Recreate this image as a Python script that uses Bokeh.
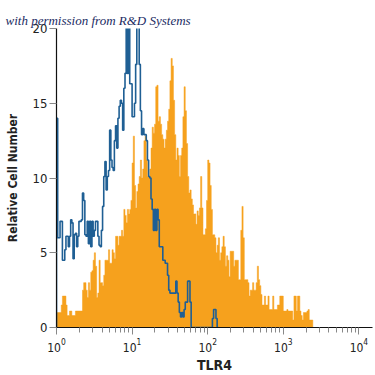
from bokeh.plotting import figure
from bokeh.models import Range1d, FixedTicker, Title
from bokeh.embed import file_html
from bokeh.resources import INLINE

# 256-channel log histogram (64 channels per decade); values = relative cell number
CHANNELS_PER_DECADE = 64

orange_counts = [
    1.0, 1.0, 1.0, 1.0, 1.5, 2.1, 2.1, 2.1, 1.5, 0.8,
    0.8, 1.1, 1.1, 0.8, 0.8, 0.8, 1.1, 1.1, 1.1, 1.1,
    1.1, 1.1, 2.5, 3.0, 3.0, 2.5, 2.0, 3.0, 2.5, 3.7,
    3.8, 4.5, 5.0, 4.1, 2.0, 2.3, 4.5, 3.0, 3.0, 2.8,
    3.5, 4.5, 4.5, 4.5, 5.2, 4.3, 4.3, 5.2, 5.0, 4.6,
    6.1, 6.1, 5.5, 6.1, 6.1, 6.5, 6.1, 7.9, 7.5, 7.0,
    7.9, 7.6, 7.9, 8.5, 11.0, 12.8, 9.5, 8.0, 9.1, 9.6,
    10.1, 11.2, 10.0, 10.6, 12.5, 12.8, 11.2, 10.1, 10.1, 10.6,
    12.0, 13.4, 13.0, 13.6, 16.1, 16.2, 13.8, 14.1, 13.6, 12.9,
    12.6, 12.0, 12.6, 13.2, 13.8, 14.6, 16.5, 18.0, 17.5, 15.2,
    12.9, 11.2, 12.0, 11.5, 10.1, 11.5, 12.0, 14.1, 16.1, 14.5,
    12.3, 10.1, 9.0, 9.2, 8.6, 8.2, 7.6, 7.6, 6.9, 7.8,
    7.5, 8.0, 10.1, 8.0, 6.2, 6.2, 6.6, 8.5, 11.2, 11.0,
    9.5, 7.9, 6.2, 6.2, 6.0, 5.0, 5.5, 6.0, 4.5, 5.0,
    5.4, 6.1, 5.4, 4.1, 4.8, 4.5, 3.4, 5.1, 5.1, 5.1,
    4.1, 4.5, 4.5, 4.5, 3.2, 3.2, 6.5, 8.1, 6.0, 3.2,
    3.2, 3.2, 3.0, 2.1, 2.5, 2.5, 3.0, 2.5, 2.5, 3.0,
    4.1, 3.2, 2.8, 2.2, 1.5, 1.5, 2.1, 1.5, 1.5, 2.1,
    1.2, 1.2, 1.2, 2.1, 1.2, 1.2, 1.2, 1.5, 1.5, 2.1,
    2.1, 2.1, 1.1, 1.1, 1.1, 1.2, 1.1, 1.1, 1.1, 1.1,
    0.5, 2.1, 2.1, 1.1, 2.1, 2.1, 1.1, 0.8, 0.5, 1.0,
    1.0, 1.0, 1.1, 1.2, 0.5, 0.5, 0.5,
]

blue_counts = [
    14.0, 6.0, 6.0, 7.1, 7.1, 4.5, 4.5, 5.2, 6.1, 6.1,
    5.4, 6.1, 7.2, 7.0, 4.6, 6.2, 6.3, 5.4, 6.1, 7.1,
    7.1, 7.2, 9.0, 8.5, 6.2, 6.1, 7.1, 5.6, 7.1, 5.4,
    7.1, 6.1, 6.5, 7.1, 7.1, 6.1, 5.5, 5.4, 6.5, 8.1,
    10.1, 11.1, 9.2, 10.1, 10.5, 13.2, 11.2, 10.7, 10.5, 12.5,
    13.5, 12.0, 14.0, 14.8, 15.2, 15.0, 13.2, 16.0, 17.0, 21.0,
    17.0, 21.0, 16.3, 16.3, 14.1, 14.1, 15.0, 17.6, 21.0, 21.0,
    17.6, 14.5, 12.9, 13.3, 12.9, 12.9, 12.5, 11.2, 10.1, 10.0,
    8.6, 7.9, 6.5, 7.9, 6.5, 7.9, 7.2, 5.4, 5.4, 5.4,
    4.5, 4.5, 4.3, 4.3, 3.5, 2.5, 2.3, 2.3, 2.3, 2.3,
    2.3, 3.1, 2.3, 1.7, 1.0, 0.7, 1.0, 0.7, 1.2, 1.7,
    1.7, 3.1, 3.1, 1.7, 0.0, 0.0, 0.0, 0.0, 0.0, 0.0,
    0.0, 0.0, 0.0, 0.0, 0.0, 0.0, 0.0, 0.0, 0.0, 0.0,
    0.0, 0.0, 0.6, 1.2, 1.2, 0.6, 0.0,
]

x_ticks = [1, 10, 100, 1000, 10000]
y_ticks = [0, 5, 10, 15, 20]
x_label = "TLR4"
y_label = "Relative Cell Number"
credit = "with permission from R&D Systems"

ORANGE = "#f6a11d"
BLUE = "#1f5f94"
FONT = "DejaVu Sans Condensed, Roboto, sans-serif"


def step_outline(counts):
    edges = [10 ** (c / CHANNELS_PER_DECADE) for c in range(len(counts) + 1)]
    xs, ys = [edges[0]], [0.0]
    for i, v in enumerate(counts):
        xs += [edges[i], edges[i + 1]]
        ys += [v, v]
    xs.append(edges[-1])
    ys.append(0.0)
    return xs, ys


p = figure(
    width=375, height=375,
    x_axis_type="log",
    x_range=Range1d(1, 10 ** 4.18),
    y_range=Range1d(0, 20),
    output_backend="svg",
    toolbar_location=None,
    min_border_left=56, min_border_right=3,
    min_border_top=28, min_border_bottom=47,
)
p.outline_line_color = None
p.grid.visible = False
p.background_fill_color = "white"

ox, oy = step_outline(orange_counts)
p.patch(ox, oy, fill_color=ORANGE, line_color=ORANGE, line_width=0.5)

bx, by = step_outline(blue_counts)
p.line(bx, by, line_color=BLUE, line_width=1.6)

minor = [m * 10 ** d for d in range(0, 5) for m in range(2, 10)]
p.xaxis.ticker = FixedTicker(ticks=x_ticks, minor_ticks=minor)
p.yaxis.ticker = FixedTicker(ticks=y_ticks)

for ax in (p.xaxis, p.yaxis):
    ax.axis_line_color = "#111111"
    ax.axis_line_width = 1.2
    ax.major_tick_line_color = "#888888"
    ax.minor_tick_line_color = "#888888"
    ax.major_tick_in = 0
    ax.minor_tick_in = 0
    ax.major_label_text_font = FONT
    ax.major_label_text_color = "#222222"
    ax.axis_label_text_font = FONT
    ax.axis_label_text_font_style = "bold"
    ax.axis_label_text_color = "#222222"

p.xaxis.major_tick_out = 7
p.xaxis.minor_tick_out = 5
p.xaxis.major_label_text_font_size = "12px"
p.xaxis.major_label_standoff = 3
p.xaxis.axis_label = x_label
p.xaxis.axis_label_text_font_size = "14px"
p.xaxis.axis_label_standoff = 2

p.yaxis.major_tick_out = 7
p.yaxis.minor_tick_out = 0
p.yaxis.major_label_text_font_size = "13px"
p.yaxis.major_label_standoff = 2
p.yaxis.axis_label = y_label
p.yaxis.axis_label_text_font_size = "12px"
p.yaxis.axis_label_standoff = 10

p.add_layout(Title(
    text=credit, align="left", offset=-51, standoff=2,
    text_font="Liberation Serif", text_font_style="italic",
    text_font_size="13px", text_color="#1b2b63",
), "above")

open("out.html", "w").write(file_html(p, INLINE))
